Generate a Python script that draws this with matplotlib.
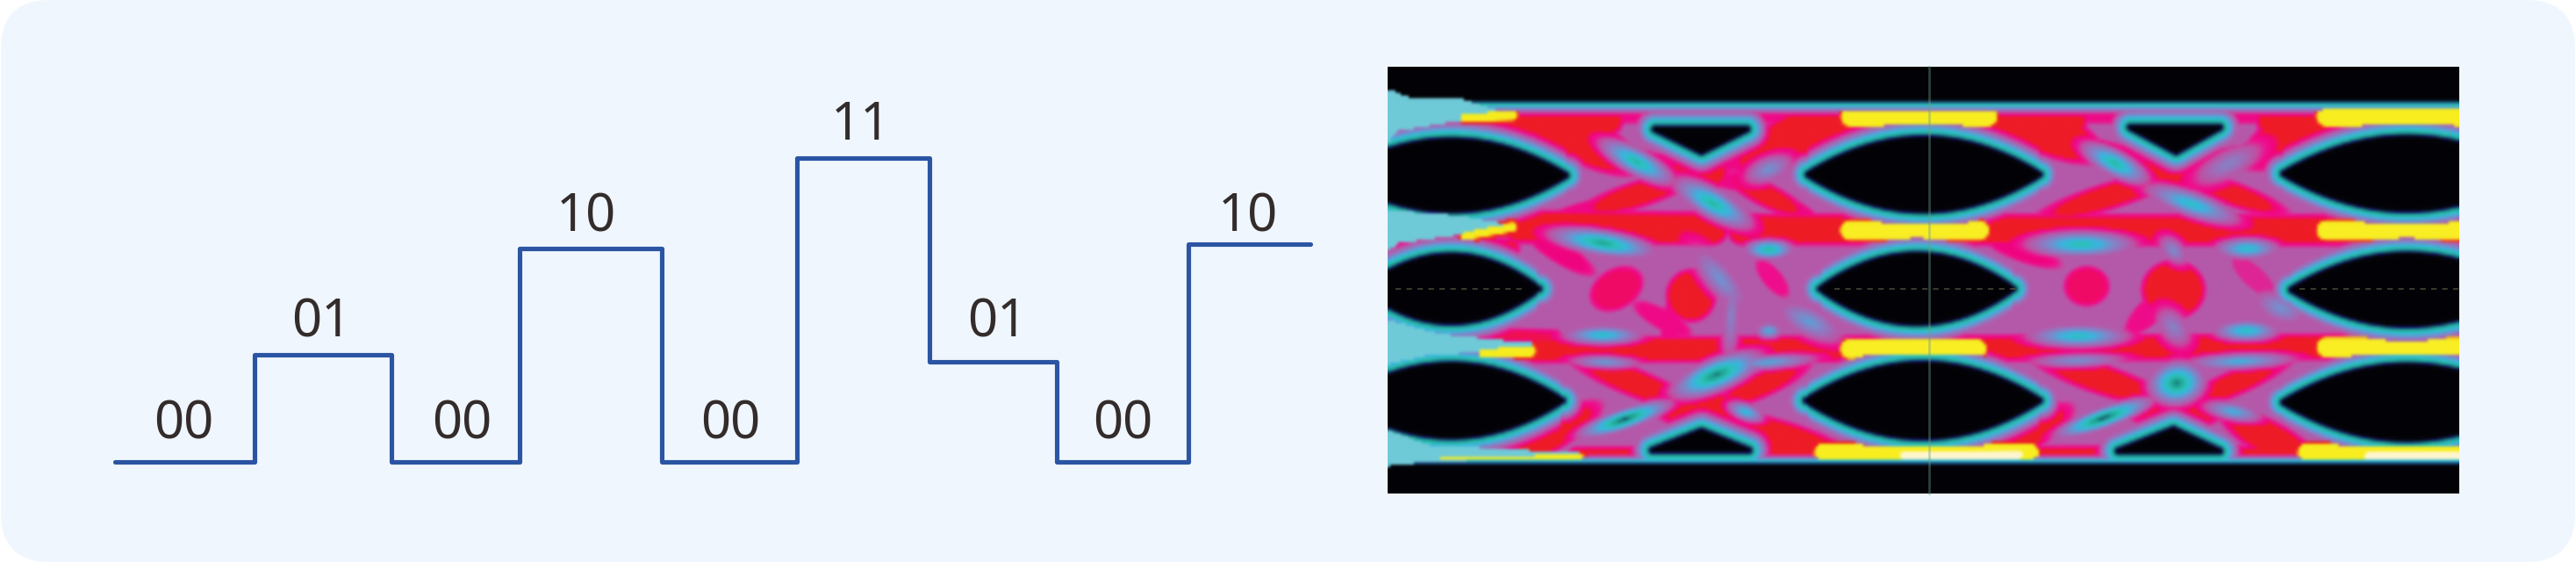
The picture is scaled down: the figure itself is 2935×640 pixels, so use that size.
import numpy as np
import matplotlib
matplotlib.use("Agg")
import matplotlib.pyplot as plt
from matplotlib.colors import LinearSegmentedColormap
from matplotlib.patches import FancyBboxPatch
from matplotlib.path import Path

# ------------------------
# Step signal (left part)
# ------------------------
step_edges = [131, 290, 446, 592, 754, 908, 1059, 1204, 1354, 1493]
step_levels = [526, 404, 526, 283, 526, 180, 412, 526, 278]
symbols = ["00", "01", "00", "10", "00", "11", "01", "00", "10"]
symbol_x = [209, 366, 526, 668, 832, 981, 1136, 1279, 1422]
symbol_base = [499, 383, 499, 263, 499, 159, 383, 499, 263]

# ------------------------
# Eye diagram (right part), shapes
# ------------------------
img_x0, img_x1, img_y0, img_y1 = 1581, 2802, 76, 562

# cx, cy, half width, half height
eyes = [
    (1652, 199, 131, 40), (1652, 329, 100, 38), (1652, 457, 127, 41),
    (2192, 198, 132, 41), (2184, 329, 110, 39), (2191, 457, 133, 42),
    (2744, 197, 141, 41), (2744, 330, 132, 40), (2744, 459, 141, 42),
]
triangles = [
    [(1885, 146), (1990, 146), (1938, 172)],
    [(2428, 144), (2530, 144), (2480, 172)],
    [(1938, 492), (1882, 514), (1992, 514)],
    [(2477, 490), (2414, 515), (2530, 515)],
]
# x0, y0, x1, y1, half width, level
rails = [
    (1600, 128, 2802, 128, 9, 0.63), (1600, 278, 1720, 282, 5, 0.72),
    (1730, 258, 1950, 260, 12, 0.76), (1985, 261, 2802, 262, 11, 0.76),
    (1660, 381, 1770, 384, 4, 0.68), (1748, 399, 2802, 395, 8, 0.76),
    (1797, 523, 2802, 521, 6, 0.76),
    (1700, 135, 1830, 135, 13, 0.74), (2075, 135, 2360, 135, 13, 0.74),
    (2590, 135, 2802, 135, 13, 0.74),
]
# same columns, drawn as soft ellipses
red_strokes = [
    (1752, 272, 1800, 302, 9, 0.66), (2275, 274, 2330, 295, 9, 0.66),
    (1745, 125, 1840, 178, 22, 0.74), (2105, 125, 2000, 178, 22, 0.74),
    (2280, 122, 2370, 165, 22, 0.74), (2655, 125, 2580, 172, 22, 0.74),
    (1830, 170, 1935, 195, 7, 0.64), (2015, 170, 1935, 195, 7, 0.64),
    (2360, 158, 2480, 192, 7, 0.64), (2590, 165, 2480, 192, 7, 0.64),
    (1918, 195, 1952, 195, 17, 0.74), (2456, 193, 2506, 193, 18, 0.76),
    (1830, 232, 1900, 210, 9, 0.74), (1985, 208, 2040, 236, 9, 0.70),
    (2358, 237, 2445, 210, 9, 0.74), (2512, 208, 2582, 234, 9, 0.70),
    (1895, 212, 1935, 198, 5, 0.64), (1989, 212, 1935, 198, 5, 0.64),
    (1770, 248, 1845, 226, 6, 0.64), (2030, 228, 2070, 256, 8, 0.64),
    (1820, 420, 1900, 452, 10, 0.74), (1978, 452, 2036, 426, 9, 0.72),
    (2350, 418, 2440, 448, 11, 0.74), (2512, 452, 2582, 422, 9, 0.72),
    (1908, 467, 1962, 467, 16, 0.74), (2450, 468, 2510, 468, 16, 0.76),
    (1798, 476, 1730, 516, 14, 0.74), (1985, 486, 2085, 518, 14, 0.74),
    (2338, 478, 2276, 514, 14, 0.74), (2555, 484, 2620, 518, 14, 0.74),
    (1895, 449, 1935, 464, 5, 0.64), (1984, 449, 1935, 464, 5, 0.64),
    (1826, 338, 1856, 320, 19, 0.67), (1926, 324, 1926, 350, 23, 0.72),
    (1906, 345, 1900, 392, 8, 0.63), (1872, 352, 1915, 376, 9, 0.63),
    (2008, 304, 2030, 330, 9, 0.61), (2366, 326, 2390, 326, 19, 0.67),
    (2460, 330, 2494, 330, 29, 0.70), (2432, 372, 2470, 335, 12, 0.62),
    (2552, 300, 2585, 330, 11, 0.58),
]
yellow_strokes = [
    (1668, 132, 1722, 130, 4, 0.90), (2108, 132, 2265, 132, 8, 0.93),
    (2652, 131, 2815, 131, 9, 0.93), (1668, 268, 1722, 258, 4, 0.88),
    (2108, 262, 2255, 262, 8, 0.95), (2652, 262, 2815, 262, 8, 0.95),
    (1688, 403, 1742, 400, 5, 0.90), (2108, 398, 2252, 398, 8, 0.95),
    (2652, 396, 2815, 396, 8, 0.95), (1640, 524, 1800, 521, 2, 0.88),
    (2078, 517, 2312, 517, 8, 0.94), (2170, 520, 2300, 519, 4, 1.0),
    (2630, 517, 2815, 517, 8, 0.94), (2700, 521, 2815, 520, 4, 1.0),
]
# x0, y0, x1, y1, half width, floor
pockets = [
    (1832, 166, 1896, 201, 14, 0.20), (1918, 212, 1984, 250, 16, 0.20),
    (1775, 268, 1875, 285, 14, 0.17), (1994, 284, 2036, 284, 11, 0.20),
    (1790, 382, 1860, 382, 10, 0.25), (2006, 377, 2024, 377, 8, 0.30),
    (1915, 444, 1995, 411, 18, 0.14), (1805, 494, 1895, 463, 12, 0.12),
    (1975, 465, 2002, 475, 9, 0.27), (1800, 412, 1856, 414, 6, 0.34),
    (1975, 416, 2055, 410, 7, 0.32), (2382, 170, 2438, 200, 14, 0.20),
    (2458, 218, 2538, 246, 13, 0.25), (2322, 278, 2420, 278, 14, 0.22),
    (2534, 283, 2588, 283, 11, 0.25), (2322, 383, 2414, 383, 12, 0.24),
    (2532, 377, 2588, 377, 11, 0.24), (2462, 440, 2500, 434, 24, 0.14),
    (2505, 414, 2600, 410, 8, 0.30), (2350, 494, 2444, 460, 12, 0.12),
    (2522, 465, 2568, 474, 9, 0.30), (2330, 412, 2405, 410, 6, 0.36),
    (2000, 198, 2030, 186, 11, 0.36), (1940, 295, 1978, 340, 13, 0.36),
    (1974, 330, 1970, 392, 7, 0.40), (2038, 355, 2084, 378, 14, 0.34),
    (2470, 278, 2484, 292, 9, 0.38), (2470, 364, 2484, 382, 11, 0.40),
    (2582, 344, 2616, 358, 13, 0.36), (2520, 196, 2560, 176, 11, 0.40),
]
# pale blue wedges at the left edge
left_wedges = [
    [(1581, 100), (1605, 110), (1667, 112), (1712, 127), (1663, 136), (1591, 148), (1581, 160)],
    [(1581, 239), (1663, 245), (1725, 257), (1663, 267), (1591, 277), (1581, 285)],
    [(1581, 365), (1640, 381), (1743, 391), (1743, 398), (1627, 405), (1581, 415)],
    [(1581, 491), (1627, 508), (1797, 517), (1797, 523), (1627, 527), (1581, 532)],
]
wedge_color = "#6fcad8"
palette = [
    (0.00, "#020205"), (0.05, "#04040a"), (0.10, "#16156a"), (0.16, "#1d9d8c"),
    (0.23, "#2cc2b6"), (0.30, "#37b6e0"), (0.38, "#7b8acb"), (0.48, "#a865b3"),
    (0.54, "#c04fa0"), (0.60, "#ee1090"), (0.66, "#f0047f"), (0.70, "#ee1c28"),
    (0.80, "#ee1c24"), (0.86, "#f6ea1c"), (0.95, "#f8ee20"), (1.00, "#fff6d0"),
]


def seg_dist(xx, yy, x0, y0, x1, y1):
    dx, dy = x1 - x0, y1 - y0
    den = dx * dx + dy * dy
    t = np.clip(((xx - x0) * dx + (yy - y0) * dy) / den, 0, 1)
    return np.hypot(xx - x0 - t * dx, yy - y0 - t * dy)


def lens_dist(xx, yy, cx, cy, a, h):
    dx, dy = xx - cx, np.abs(yy - cy)
    g = h * (1 - (dx / a) ** 2)
    slope = 2 * h * dx / a ** 2
    d = (dy - g) / np.sqrt(1 + slope ** 2)
    return np.where(np.abs(dx) < a, d, np.hypot(np.abs(dx) - a, dy))


def ellipse_r(xx, yy, x0, y0, x1, y1, hw):
    # 0 on the middle of the segment, 1 on the rim
    length = np.hypot(x1 - x0, y1 - y0)
    ux, uy = (x1 - x0) / length, (y1 - y0) / length
    cx, cy = (x0 + x1) / 2, (y0 + y1) / 2
    along = (xx - cx) * ux + (yy - cy) * uy
    perp = -(xx - cx) * uy + (yy - cy) * ux
    return np.hypot(along / (length / 2 + hw * 0.5), perp / hw)


def poly_mask(xx, yy, pts):
    return Path(pts).contains_points(np.c_[xx.ravel(), yy.ravel()]).reshape(xx.shape)


def poly_dist(xx, yy, pts):
    d = np.full(xx.shape, 1e9)
    for (x0, y0), (x1, y1) in zip(pts, pts[1:] + pts[:1]):
        d = np.minimum(d, seg_dist(xx, yy, x0, y0, x1, y1))
    return np.where(poly_mask(xx, yy, pts), -d, d)


def eye_field():
    xx, yy = np.meshgrid(np.arange(img_x0, img_x1 + 1, 3.0), np.arange(img_y0, img_y1 + 1, 3.0))
    f = np.full(xx.shape, 0.51)
    for x0, y0, x1, y1, hw, lev in rails:
        d = seg_dist(xx, yy, x0, y0, x1, y1) - hw
        f = np.maximum(f, lev - np.clip(d, 0, None) * 0.025)
    for x0, y0, x1, y1, hw, lev in red_strokes:
        d = (ellipse_r(xx, yy, x0, y0, x1, y1, hw) - 1) * hw
        f = np.maximum(f, lev - np.clip(d, 0, None) * 0.025)
    for x0, y0, x1, y1, hw, floor in pockets:
        r = ellipse_r(xx, yy, x0, y0, x1, y1, hw)
        f = np.minimum(f, floor + r ** 1.3 * (0.50 - floor))
    for cx, cy, a, h in eyes:
        f = np.minimum(f, 0.02 + np.clip(lens_dist(xx, yy, cx, cy, a, h), 0, None) * 0.025)
    for pts in triangles:
        f = np.minimum(f, 0.02 + np.clip(poly_dist(xx, yy, pts), 0, None) * 0.025)
    # black above and below the trace band
    f = np.minimum(f, 0.02 + np.clip(yy - 112, 0, None) * 0.035)
    f = np.minimum(f, 0.02 + np.clip(531 - yy, 0, None) * 0.05)
    for pts in left_wedges:
        f = np.where(poly_mask(xx, yy, pts), -1.0, f)
    for x0, y0, x1, y1, hw, lev in yellow_strokes:
        d = seg_dist(xx, yy, x0, y0, x1, y1) - hw
        hi = lev - np.clip(d, 0, None) * 0.035
        # a halo only over the traces, not over the pale wedges or the black
        f = np.where((d < 0) | ((d < 5) & (f > 0.5)), np.maximum(f, hi), f)
    return f


fig = plt.figure(figsize=(29.35, 6.4), dpi=100, facecolor="white")
ax = fig.add_axes([0, 0, 1, 1])
ax.set_xlim(0, 2935)
ax.set_ylim(640, 0)
ax.axis("off")

ax.add_patch(FancyBboxPatch((1, 0), 2933, 640, boxstyle="round,pad=0,rounding_size=56",
                            fc="#eff6fd", ec="none", mutation_aspect=1))

# signal
ax.step(step_edges, step_levels + step_levels[-1:], where="post", color="#2b55a3", lw=3.7,
        solid_joinstyle="round", solid_capstyle="round")
for s, x, y in zip(symbols, symbol_x, symbol_base):
    ax.text(x, y, s, ha="center", va="baseline", fontsize=43, color="#332c2b", family="Noto Sans")

# eye diagram
cmap = LinearSegmentedColormap.from_list("eye", palette, N=512)
cmap.set_under(wedge_color)
ax.imshow(cmap(eye_field())[:, :, :3], extent=(img_x0, img_x1, img_y1, img_y0),
          interpolation="bicubic", aspect="auto", zorder=2)
ax.plot([2198, 2198], [img_y0, img_y1], color="#6f9c88", lw=2, alpha=0.4, zorder=3)
for x0, x1 in [(1590, 1740), (2090, 2300), (2620, 2802)]:
    ax.plot([x0, x1], [329, 329], color="#8a8f6a", lw=1.5, ls=(0, (3, 3)), alpha=0.4, zorder=3)
ax.set_xlim(0, 2935)
ax.set_ylim(640, 0)

fig.savefig("out.png", dpi=100, facecolor="white")
